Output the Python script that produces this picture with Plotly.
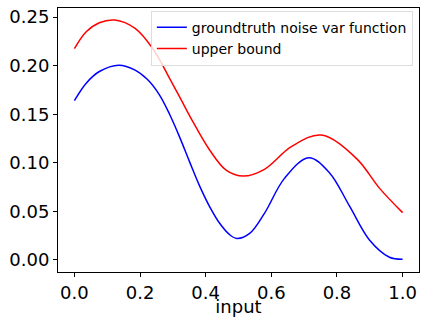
import plotly.graph_objects as go

# Data
gt_x = [0.0, 0.036, 0.076, 0.135, 0.185, 0.222, 0.259, 0.290, 0.320, 0.351,
        0.381, 0.412, 0.442, 0.473, 0.495, 0.534, 0.579, 0.640, 0.714, 0.777,
        0.838, 0.899, 0.960, 1.0]
gt_y = [0.164, 0.182, 0.194, 0.2005, 0.1955, 0.186, 0.170, 0.150, 0.127, 0.101,
        0.0765, 0.0549, 0.038, 0.026, 0.0222, 0.0274, 0.048, 0.084, 0.1053, 0.0899,
        0.0556, 0.0206, 0.0028, 0.0007]

ub_x = [0.0, 0.036, 0.076, 0.123, 0.185, 0.240, 0.290, 0.325, 0.361, 0.412,
        0.462, 0.515, 0.579, 0.661, 0.752, 0.859, 0.930, 1.0]
ub_y = [0.2175, 0.2349, 0.2442, 0.247, 0.2384, 0.2170, 0.1870, 0.1650, 0.1423, 0.1132,
        0.0926, 0.0864, 0.0933, 0.1166, 0.1286, 0.1046, 0.0737, 0.0487]

x_ticks = [0.0, 0.2, 0.4, 0.6, 0.8, 1.0]
y_ticks = [0.00, 0.05, 0.10, 0.15, 0.20, 0.25]

FONT = "DejaVu Sans"

fig = go.Figure()
fig.add_trace(go.Scatter(x=gt_x, y=gt_y, mode="lines", name="groundtruth noise var function",
                         line=dict(color="blue", width=1.5, shape="spline", smoothing=1.0)))
fig.add_trace(go.Scatter(x=ub_x, y=ub_y, mode="lines", name="upper bound",
                         line=dict(color="red", width=1.5, shape="spline", smoothing=1.0)))

axis_common = dict(showgrid=False, zeroline=False, showline=True, linecolor="black",
                   linewidth=1, mirror=True, ticks="outside", ticklen=4, tickcolor="black",
                   tickwidth=1, automargin=False,
                   tickfont=dict(family=FONT, size=18, color="black"))

fig.update_xaxes(range=[-0.05, 1.05], tickvals=x_ticks, tickformat=".1f",
                 title=dict(text="input", font=dict(family=FONT, size=18, color="black"), standoff=7),
                 **axis_common)
fig.update_yaxes(range=[-0.0124, 0.2594], tickvals=y_ticks, tickformat=".2f", **axis_common)

fig.update_layout(
    width=421, height=317,
    margin=dict(l=58, r=2, t=8, b=45, autoexpand=False),
    plot_bgcolor="white", paper_bgcolor="white",
    font=dict(family=FONT, color="black"),
    legend=dict(x=0.983, y=0.99, xanchor="right", yanchor="top",
                bgcolor="rgba(255,255,255,0.8)", bordercolor="#dddddd", borderwidth=1,
                font=dict(family=FONT, size=14, color="black"),
                tracegroupgap=0, itemwidth=30),
)

fig.write_html("out.html", config={"displayModeBar": False},
               post_script="document.body.style.margin='0';document.body.style.padding='0';")
